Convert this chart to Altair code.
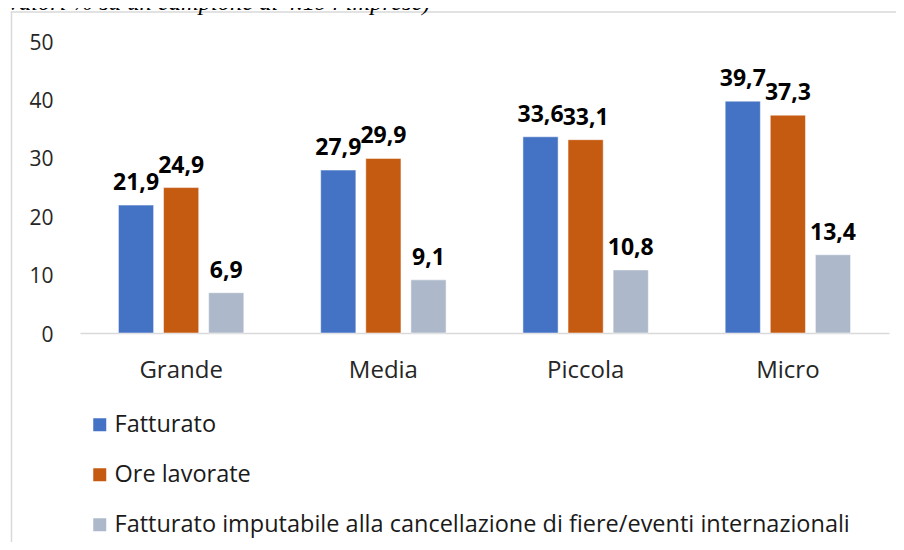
import altair as alt
import pandas as pd

categories = ["Grande", "Media", "Piccola", "Micro"]
series = [
    "Fatturato",
    "Ore lavorate",
    "Fatturato imputabile alla cancellazione di fiere/eventi internazionali",
]
fatturato = [21.9, 27.9, 33.6, 39.7]
ore_lavorate = [24.9, 29.9, 33.1, 37.3]
fiere = [6.9, 9.1, 10.8, 13.4]
colors = ["#4472C4", "#C55A11", "#ADB9CA"]
y_ticks = [0, 10, 20, 30, 40, 50]
subtitle = "(valori % su un campione di 4.194 imprese)"

rows = []
for s, vals in zip(series, [fatturato, ore_lavorate, fiere]):
    for c, v in zip(categories, vals):
        rows.append({"categoria": c, "serie": s, "valore": v,
                     "etichetta": f"{v:.1f}".replace(".", ",")})
df = pd.DataFrame(rows)

FONT = "Open Sans"

x = alt.X("categoria:N", sort=categories,
          scale=alt.Scale(paddingInner=0.38, paddingOuter=0.19),
          axis=alt.Axis(title=None, labelAngle=0, ticks=False, domain=True,
                        domainColor="#D9D9D9", domainWidth=1.5,
                        labelFontSize=24, labelPadding=25, labelColor="#262626",
                        labelFont=FONT))
y = alt.Y("valore:Q",
          scale=alt.Scale(domain=[0, 50], nice=False),
          axis=alt.Axis(title=None, values=y_ticks, grid=False, domain=False,
                        ticks=False, labelFontSize=21, labelPadding=27,
                        labelOffset=2,
                        labelColor="#262626", labelFont=FONT))
xo = alt.XOffset("serie:N", sort=series,
                 scale=alt.Scale(paddingInner=0.22, paddingOuter=0))

base = alt.Chart(df)

bars = base.mark_bar(stroke="white", strokeWidth=0.5).encode(
    x=x, y=y, xOffset=xo,
    color=alt.Color("serie:N", sort=series,
                    scale=alt.Scale(domain=series, range=colors),
                    legend=alt.Legend(title=None, orient="none", legendX=8,
                                      legendY=372, direction="vertical",
                                      symbolType="square", symbolSize=169,
                                      symbolStrokeWidth=0, labelFontSize=23.5,
                                      labelFont=FONT, labelColor="#1a1a1a",
                                      rowPadding=25, labelOffset=3,
                                      labelLimit=1000, padding=0)),
)

labels = base.mark_text(baseline="alphabetic", dy=-15, fontWeight="bold",
                        fontSize=23, font=FONT, color="#000000").encode(
    x=x, y=y, xOffset=xo, text="etichetta:N",
)

one = pd.DataFrame({"t": [subtitle]})
frame = alt.Chart(one).mark_rect(filled=False, stroke="#D9D9D9",
                                 strokeWidth=1.5).encode(
    x=alt.value(-68.5), x2=alt.value(900), y=alt.value(-29), y2=alt.value(700)
)
title = alt.Chart(one).mark_text(align="left", baseline="alphabetic",
                                 font="Liberation Serif", fontStyle="italic",
                                 fontSize=24.5, color="#000000").encode(
    x=alt.value(-80), y=alt.value(-31.5), text="t:N"
)

chart = alt.layer(frame, bars, labels, title).properties(
    width=809, height=292,
    autosize=alt.AutoSizeParams(type="none"),
    padding={"left": 72, "top": 33, "right": 7, "bottom": 209},
    background="white",
).configure_view(stroke=None)

chart.save("out.html", embed_options={"renderer": "svg", "actions": False})
